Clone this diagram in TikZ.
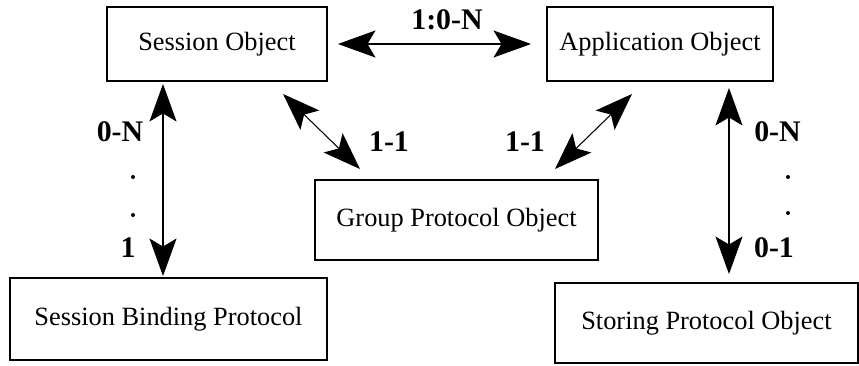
\documentclass[tikz,border=0pt]{standalone}
\usepackage{fontspec}
\setmainfont{Liberation Serif}
\usepackage{tikz}
\usetikzlibrary{arrows.meta, positioning, calc}
\tikzset{
  obj/.style     = {rectangle, draw, line width=1.1pt, inner sep=2pt,
                    font=\fontsize{15}{17}\selectfont},
  assoc/.style   = {{Stealth[length=7.5mm, width=5.4mm, inset=1.6mm]}-{Stealth[length=7.5mm, width=5.4mm, inset=1.6mm]},
                    line width=0.6pt},
  mult/.style    = {font=\fontsize{17}{20}\selectfont\bfseries, inner sep=1pt},
  dotmark/.style = {circle, fill, inner sep=0pt, minimum size=0.8mm},
}

\begin{document}
\begin{tikzpicture}[scale=1.0]
  \useasboundingbox (0,0) rectangle (17.18,7.3);

  % the five objects
  \node[obj, minimum width=4.4cm, minimum height=1.48cm] (sess) at (4.34,6.42) {Session Object};
  \node[obj, minimum width=4.52cm, minimum height=1.48cm] (app) at (13.2,6.42) {Application Object};
  \node[obj, minimum width=5.66cm, minimum height=1.6cm] (grp) at (9.13,2.9) {Group Protocol Object};
  \node[obj, minimum width=6.34cm, minimum height=1.64cm] (bind) at (3.37,0.92) {Session Binding Protocol};
  \node[obj, minimum width=6.06cm, minimum height=1.6cm] (store) at (14.13,0.84) {Storing Protocol Object};

  % x positions of the vertical links
  \coordinate (lx) at (3.26,0);
  \coordinate (rx) at (14.58,0);

  % associations
  \draw[assoc, shorten <=0.2cm, shorten >=0.3cm] (sess.east) -- (app.west);
  \draw[assoc, shorten <=0.04cm, shorten >=0.02cm] (sess.south -| lx) -- (bind.north -| lx);
  \draw[assoc, shorten <=0.12cm, shorten >=0.16cm] (app.south -| rx) -- (store.north -| rx);
  \draw[assoc] ([xshift=1.32cm, yshift=-0.24cm]sess.south) -- ([xshift=-1.93cm, yshift=0.2cm]grp.north);
  \draw[assoc] ([xshift=-0.56cm, yshift=-0.24cm]app.south) -- ([xshift=1.97cm, yshift=0.2cm]grp.north);

  % multiplicities
  \node[mult] (m-top) at (8.94,6.9) {1:0-N};
  \node[mult] (m-l0) at (2.4,4.66) {0-N};
  \node[dotmark] (d-l1) at (2.66,3.76) {};
  \node[dotmark] (d-l2) at (2.66,3.0) {};
  \node[mult] (m-l1) at (2.56,2.34) {1};
  \node[mult] (m-gl) at (7.78,4.46) {1-1};
  \node[mult] (m-gr) at (10.5,4.46) {1-1};
  \node[mult] (m-r0) at (15.55,4.66) {0-N};
  \node[dotmark] (d-r1) at (15.76,3.76) {};
  \node[dotmark] (d-r2) at (15.76,3.04) {};
  \node[mult] (m-r1) at (15.48,2.34) {0-1};
\end{tikzpicture}
\end{document}
